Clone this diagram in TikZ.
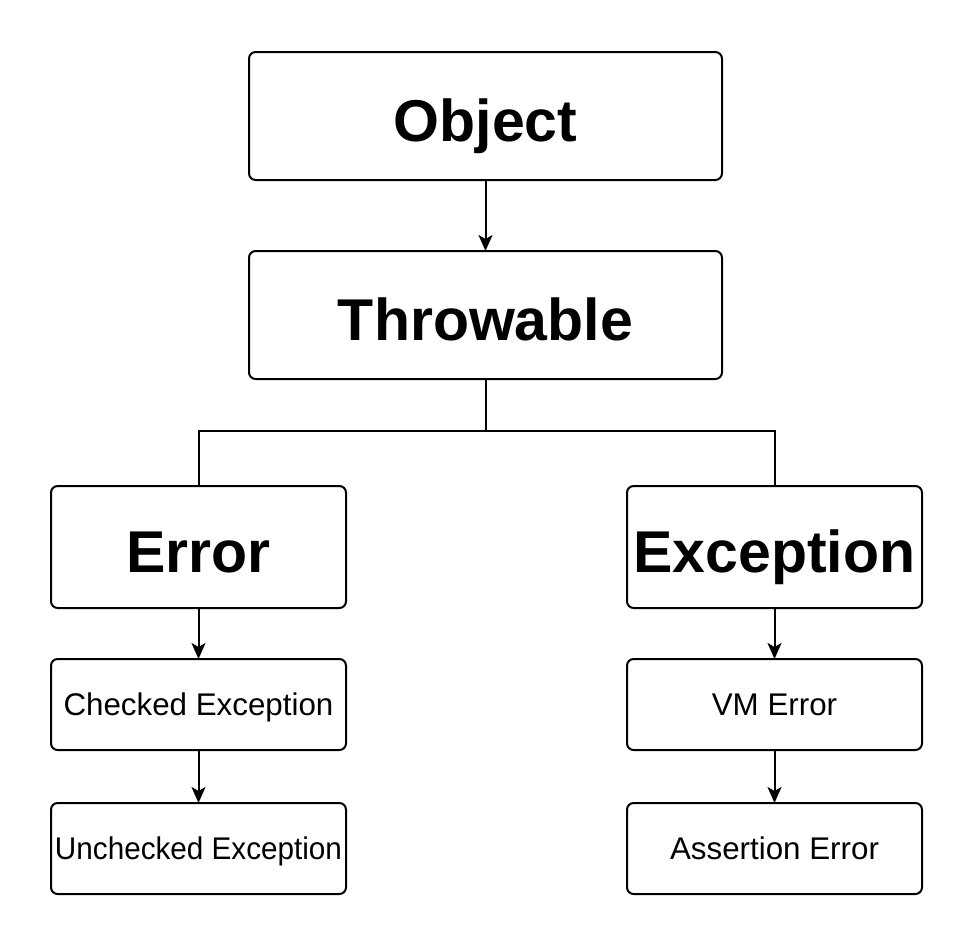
\documentclass[tikz,border=0pt]{standalone}
\usepackage{fontspec}
\setmainfont{Liberation Sans}
\usetikzlibrary{positioning, arrows.meta}
\tikzset{
  % boxes of the class tree
  cls/.style={draw, rounded corners=5pt, line width=1.5pt, inner sep=0pt, outer sep=0pt},
  bigcls/.style={cls, minimum width=354.75pt, minimum height=96pt,
    font=\bfseries\fontsize{44.25}{50}\selectfont, text height=37.5pt, text depth=0pt},
  midcls/.style={bigcls, minimum width=221.25pt, minimum height=91.5pt},
  smallcls/.style={cls, minimum width=221.25pt, minimum height=68.25pt,
    font=\fontsize{23.5}{28}\selectfont, text height=16.8pt, text depth=0pt},
  link/.style={-{Stealth[length=12pt, width=10.5pt, inset=3pt]}}
}

\begin{document}
\begin{tikzpicture}[line width=1.5pt, node distance=38.25pt]
    \useasboundingbox (0,0) rectangle (730.5pt,-709.5pt);

    \node[bigcls] (obj) at (364.125pt,-87pt) {Object};
    \node[bigcls, below = 53.25pt of obj] (thr) {Throwable};
    \node[midcls, below = 80.25pt of thr, xshift=-215.25pt] (err) {Error};
    \node[midcls, below = 80.25pt of thr, xshift=216.75pt] (exc) {Exception};
    \node[smallcls, below = of err] (chk) {Checked Exception};
    \node[smallcls, below = 39.75pt of chk] (unchk) {\scalebox{0.947}[1]{Unchecked Exception}};
    \node[smallcls, below = of exc] (vm) {VM Error};
    \node[smallcls, below = 39.75pt of vm] (asrt) {Assertion Error};

    \draw[link] (obj) -- (thr);
    \draw (thr.south) -- ++(0,-39pt) coordinate (fork) -| (err.north);
    \draw (fork) -| (exc.north);
    \draw[link] (err) -- (chk);
    \draw[link] (chk) -- (unchk);
    \draw[link] (exc) -- (vm);
    \draw[link] (vm) -- (asrt);
\end{tikzpicture}
\end{document}
